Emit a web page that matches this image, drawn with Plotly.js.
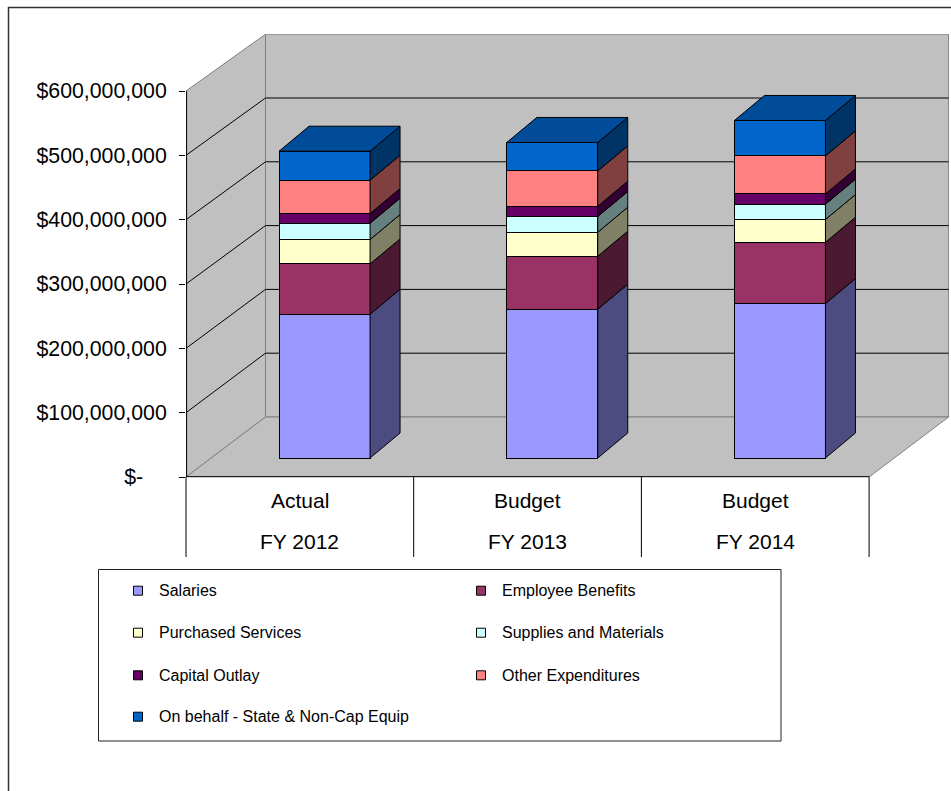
<!DOCTYPE html>
<html><head><meta charset="utf-8">
<script src="https://cdn.plot.ly/plotly-3.0.1.min.js"></script>
<style>html,body{margin:0;padding:0;background:#fff;}#chart{width:951px;height:791px;}</style>
</head><body><div id="chart"></div>
<script>
// ---------------- DATA ----------------
const periodLabels = ["Actual", "Budget", "Budget"];
const fiscalYears = ["FY 2012", "FY 2013", "FY 2014"];
const seriesNames = ["Salaries", "Employee Benefits", "Purchased Services", "Supplies and Materials",
  "Capital Outlay", "Other Expenditures", "On behalf - State & Non-Cap Equip"];
const salaries          = [223.5e6, 231.3e6, 240.1e6];
const employeeBenefits  = [78.2e6, 82.4e6, 95.3e6];
const purchasedServices = [37.9e6, 37.3e6, 35.3e6];
const suppliesMaterials = [25.3e6, 24.4e6, 23.8e6];
const capitalOutlay     = [15.1e6, 16.0e6, 16.0e6];
const otherExpenditures = [51.8e6, 54.9e6, 59.1e6];
const onBehalf          = [45.1e6, 44.2e6, 55.1e6];
const yTickVals = [0, 1e8, 2e8, 3e8, 4e8, 5e8, 6e8];
const yTickText = ["$-\u00a0\u00a0\u00a0\u00a0", "$100,000,000", "$200,000,000", "$300,000,000",
  "$400,000,000", "$500,000,000", "$600,000,000"];

// ---------------- STYLE ----------------
const frontColors = ["#9999FF", "#993366", "#FFFFCC", "#CCFFFF", "#660066", "#FF8080", "#0066CC"];
const sideColors  = ["#4C4C80", "#4C1933", "#808066", "#668080", "#330033", "#804040", "#003366"];
const topColor = "#004C99";
const FONT = "Liberation Sans, Arial, sans-serif";

// ---------------- GEOMETRY ----------------
const W = 951, H = 791;
const M = {l: 186, r: 2, t: 34, b: 314};
const PW = W - M.l - M.r, PH = H - M.t - M.b;
const PXU = 227.7;               // px per category
const PPY = 64.33 / 1e8;         // px per dollar (front plane)
const XR = [-0.5, -0.5 + PW / PXU];
const YR = [0, PH / PPY];
// bar front plane offset (oblique depth)
const BX = 24.7, BY = 19;
const XR2 = XR.map(v => v - BX / PXU);
const YR2 = YR.map(v => v - BY / PPY);
const BW = 91 / PXU, HW = BW / 2;
const DDX = 30 / PXU, DDY = 25 / PPY;
// walls
const WDX = 79.5 / PXU;
const yb = v => (60 + v * 63.8 / 1e8) / PPY;
const nCat = fiscalYears.length;
const XL = -0.5, XRt = nCat - 0.5;
const px2x = px => (px - M.l) / PW;
const py2y = py => (H - M.b - py) / PH;
const dx2p = x => (x - XR[0]) / (XR[1] - XR[0]);
const dy2p = y => (y - YR[0]) / (YR[1] - YR[0]);

const series = [salaries, employeeBenefits, purchasedServices, suppliesMaterials, capitalOutlay, otherExpenditures, onBehalf];

// ---------------- TRACES ----------------
const traces = [];
series.forEach((vals, k) => {
  traces.push({
    type: "bar", x: [0, 1, 2], y: vals, width: BW, name: seriesNames[k],
    xaxis: "x2", yaxis: "y2", showlegend: false, hoverinfo: "skip",
    marker: {color: frontColors[k], line: {color: "#000", width: 1}}
  });
});
const cum = [0, 0, 0];
series.forEach((vals, k) => {
  const xs = [], ys = [];
  vals.forEach((v, i) => {
    const b = cum[i], t = cum[i] + v;
    const xr = i + HW;
    xs.push(xr, xr + DDX, xr + DDX, xr, xr, null);
    ys.push(b, b + DDY, t + DDY, t, b, null);
    cum[i] = t;
  });
  traces.push({
    type: "scatter", mode: "lines", x: xs, y: ys, fill: "toself", fillcolor: sideColors[k],
    line: {color: "#000", width: 1}, xaxis: "x2", yaxis: "y2", showlegend: false, hoverinfo: "skip"
  });
});
{
  const xs = [], ys = [];
  cum.forEach((T, i) => {
    xs.push(i - HW, i - HW + DDX, i + HW + DDX, i + HW, i - HW, null);
    ys.push(T, T + DDY, T + DDY, T, T, null);
  });
  traces.push({
    type: "scatter", mode: "lines", x: xs, y: ys, fill: "toself", fillcolor: topColor,
    line: {color: "#000", width: 1}, xaxis: "x2", yaxis: "y2", showlegend: false, hoverinfo: "skip"
  });
}

// ---------------- SHAPES ----------------
const shapes = [];
const P = pts => "M " + pts.map(p => p[0] + "," + p[1]).join(" L ") + " Z";
const wallStyle = {type: "path", xref: "x", yref: "y", layer: "below", fillcolor: "#C0C0C0", line: {color: "#808080", width: 1}};
const TOP = 6e8;
shapes.push(Object.assign({path: P([[XL, 0], [XL + WDX, yb(0)], [XL + WDX, yb(TOP)], [XL, TOP]])}, wallStyle));
shapes.push(Object.assign({path: P([[XL + WDX, yb(0)], [XRt + WDX, yb(0)], [XRt + WDX, yb(TOP)], [XL + WDX, yb(TOP)]])}, wallStyle));
shapes.push(Object.assign({path: P([[XL, 0], [XRt, 0], [XRt + WDX, yb(0)], [XL + WDX, yb(0)]])}, wallStyle));
yTickVals.slice(1, -1).forEach(v => {
  shapes.push({type: "path", xref: "x", yref: "y", layer: "below",
    path: `M ${XL},${v} L ${XL + WDX},${yb(v)} L ${XRt + WDX},${yb(v)}`, line: {color: "#000", width: 1}});
});
// y axis line (front-left edge)
shapes.push({type: "line", xref: "paper", yref: "paper", x0: px2x(186.6), x1: px2x(186.6), y0: 0, y1: dy2p(TOP), line: {color: "#000", width: 1}});
// category axis line + dividers
shapes.push({type: "line", xref: "paper", yref: "paper", x0: dx2p(XL), x1: dx2p(XRt), y0: py2y(476.7), y1: py2y(476.7), line: {color: "#000", width: 1}});
for (let i = 0; i <= nCat; i++) {
  const xp = dx2p(XL + i);
  shapes.push({type: "line", xref: "paper", yref: "paper", x0: xp, x1: xp, y0: py2y(476.7), y1: py2y(557), line: {color: "#000", width: 1}});
}
// chart border
shapes.push({type: "rect", xref: "paper", yref: "paper", x0: px2x(8.5), x1: px2x(1000), y0: py2y(7.5), y1: py2y(900), line: {color: "#333", width: 1.5}});
// legend box
shapes.push({type: "rect", xref: "paper", yref: "paper", x0: px2x(98.5), x1: px2x(781), y0: py2y(569.5), y1: py2y(741), line: {color: "#222", width: 1}});

// ---------------- ANNOTATIONS ----------------
const annotations = [];
for (let i = 0; i < nCat; i++) {
  annotations.push({x: i, xref: "x", y: py2y(500.5), yref: "paper", text: periodLabels[i], showarrow: false,
    xanchor: "center", yanchor: "middle", font: {family: FONT, size: 21, color: "#000"}});
  annotations.push({x: i, xref: "x", y: py2y(541.5), yref: "paper", text: fiscalYears[i], showarrow: false,
    xanchor: "center", yanchor: "middle", font: {family: FONT, size: 21, color: "#000"}});
}
const legRows = [590.7, 632.7, 675.3, 716.7];
const legCols = [138, 481];
seriesNames.forEach((nm, k) => {
  const cx = legCols[k % 2], cy = legRows[Math.floor(k / 2)];
  shapes.push({type: "rect", xref: "paper", yref: "paper", x0: px2x(cx - 4.5), x1: px2x(cx + 4.5), y0: py2y(cy - 4.5), y1: py2y(cy + 4.5),
    fillcolor: frontColors[k], line: {color: "#000", width: 1}});
  annotations.push({x: px2x(cx + 18.8), xref: "paper", y: py2y(cy), yref: "paper", text: nm.replace("&", "&amp;"), showarrow: false,
    xanchor: "left", yanchor: "middle", font: {family: FONT, size: 16, color: "#000"}});
});

// ---------------- LAYOUT ----------------
const layout = {
  width: W, height: H, margin: M, paper_bgcolor: "#fff", plot_bgcolor: "#fff",
  showlegend: false, barmode: "stack", bargap: 0,
  xaxis: {range: XR, showgrid: false, zeroline: false, showticklabels: false, ticks: "", showline: false, fixedrange: true},
  yaxis: {range: YR, showgrid: false, zeroline: false, showline: false, tickvals: yTickVals, ticktext: yTickText,
    ticks: "outside", ticklen: 6, tickcolor: "#000", tickwidth: 1, ticklabelstandoff: 8,
    tickfont: {family: FONT, size: 21.3, color: "#000"}, fixedrange: true},
  xaxis2: {range: XR2, overlaying: "x", anchor: "y2", visible: false, fixedrange: true},
  yaxis2: {range: YR2, overlaying: "y", anchor: "x2", visible: false, fixedrange: true},
  shapes: shapes, annotations: annotations
};
Plotly.newPlot("chart", traces, layout, {displayModeBar: false, staticPlot: true});
</script>
</body></html>
